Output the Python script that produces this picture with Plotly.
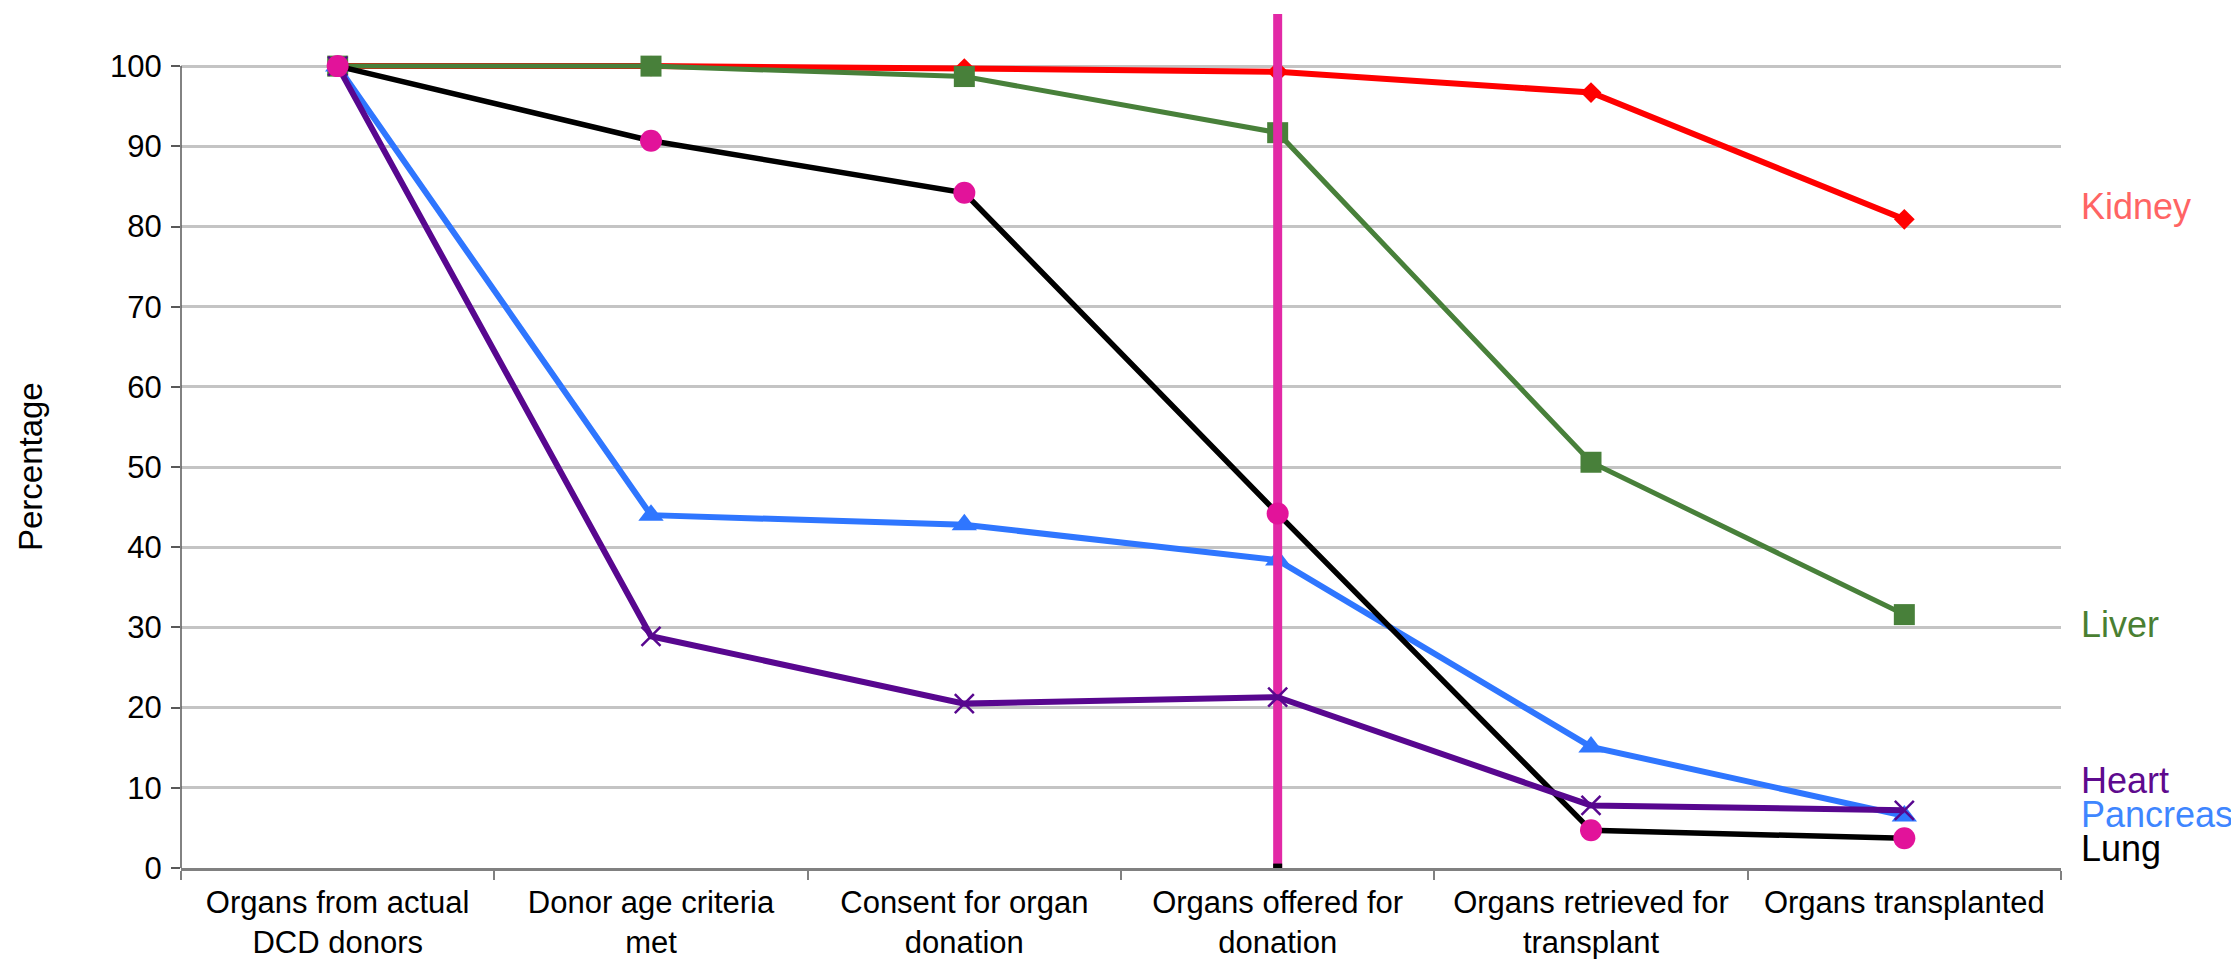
import plotly.graph_objects as go

categories = [
    "Organs from actual<br>DCD donors",
    "Donor age criteria<br>met",
    "Consent for organ<br>donation",
    "Organs offered for<br>donation",
    "Organs retrieved for<br>transplant",
    "Organs transplanted",
]
kidney = [100, 100, 99.7, 99.3, 96.7, 80.9]
liver = [100, 100, 98.7, 91.7, 50.6, 31.6]
pancreas = [100, 44.0, 42.8, 38.4, 15.1, 6.5]
heart = [100, 28.9, 20.5, 21.3, 7.8, 7.2]
lung = [100, 90.7, 84.2, 44.2, 4.7, 3.7]
y_ticks = [0, 10, 20, 30, 40, 50, 60, 70, 80, 90, 100]
marker_category = categories[3]
marker_top = 106.5

FONT = "Liberation Sans, Arial, sans-serif"
L_MARGIN = 173

fig = go.Figure()

fig.add_trace(go.Scatter(
    x=categories, y=kidney, mode="lines+markers",
    line=dict(color="#FF0000", width=6),
    marker=dict(symbol="diamond", size=16, color="#FF0000"),
))
fig.add_trace(go.Scatter(
    x=categories, y=liver, mode="lines+markers",
    line=dict(color="#48803A", width=5),
    marker=dict(symbol="square", size=21, color="#48803A"),
))
fig.add_trace(go.Scatter(
    x=categories, y=pancreas, mode="lines+markers",
    line=dict(color="#2F76FF", width=6),
    marker=dict(symbol="triangle-up", size=22, color="#2F76FF"),
))
fig.add_trace(go.Scatter(
    x=categories, y=lung, mode="lines",
    line=dict(color="#000000", width=5.5),
))
# vertical marker line at "Organs offered for donation"
fig.add_trace(go.Scatter(
    x=[marker_category, marker_category], y=[0, marker_top], mode="lines",
    line=dict(color="#E229A6", width=9),
))
fig.add_trace(go.Scatter(
    x=[marker_category, marker_category], y=[0, 0.55], mode="lines",
    line=dict(color="#000000", width=9),
))
fig.add_trace(go.Scatter(
    x=categories, y=heart, mode="lines+markers",
    line=dict(color="#58078F", width=6),
    marker=dict(symbol="x-thin", size=19, color="#58078F",
                line=dict(color="#58078F", width=2.5)),
))
fig.add_trace(go.Scatter(
    x=categories, y=lung, mode="markers",
    marker=dict(symbol="circle", size=22, color="#E2139A"),
))

labels = [
    ("Kidney", 82.5, "#FF6464"),
    ("Liver", 30.4, "#4A7F32"),
    ("Heart", 10.9, "#5E0A8E"),
    ("Pancreas", 6.7, "#3F86FF"),
    ("Lung", 2.4, "#000000"),
]
annotations = []
for text, yv, col in labels:
    annotations.append(dict(
        x=5.5, y=yv, xref="x", yref="y", text=text, showarrow=False,
        xanchor="left", yanchor="middle", xshift=18,
        font=dict(family=FONT, size=36, color=col),
    ))
annotations.append(dict(
    x=0, y=50, xref="paper", yref="y", text="Percentage",
    showarrow=False, textangle=-90, xanchor="center", yanchor="middle",
    xshift=22 - L_MARGIN,
    font=dict(family=FONT, size=33, color="#000000"),
))

fig.update_layout(
    width=2239, height=959,
    margin=dict(l=L_MARGIN, r=186, t=6, b=99, autoexpand=False),
    paper_bgcolor="white", plot_bgcolor="white",
    showlegend=False,
    font=dict(family=FONT, size=31, color="#000000"),
    annotations=annotations,
    shapes=[dict(type="line", xref="paper", yref="y", x0=0, x1=0, y0=0, y1=100,
                 line=dict(color="#595959", width=1.5), layer="above")],
)
fig.update_xaxes(
    type="category", range=[-0.5, 5.5], automargin=False,
    showline=True, linecolor="#808080", linewidth=2.5,
    ticks="outside", tickson="boundaries", ticklen=9, tickwidth=1.5, tickcolor="#808080",
    showgrid=False, zeroline=False,
    tickfont=dict(family=FONT, size=31, color="#000000"),
    ticklabelstandoff=5,
)
fig.update_yaxes(
    range=[0, marker_top], tickvals=y_ticks, automargin=False,
    showgrid=True, gridcolor="#C4C4C4", gridwidth=2.5,
    showline=False, zeroline=False,
    ticks="outside", ticklen=9, tickwidth=1.5, tickcolor="#595959",
    tickfont=dict(family=FONT, size=31, color="#000000"),
    ticklabelstandoff=3,
)

fig.write_html("out.html")
